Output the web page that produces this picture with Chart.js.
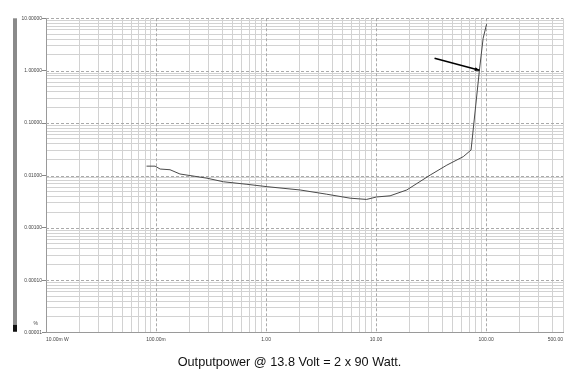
<!DOCTYPE html>
<html>
<head>
<meta charset="utf-8">
<script src="https://cdn.jsdelivr.net/npm/chart.js@4.4.0/dist/chart.umd.min.js"></script>
<style>
html, body { margin: 0; padding: 0; background: #fff; }
</style>
</head>
<body>
<canvas id="myChart" width="586" height="390"></canvas>
<script>
// Output power in Watt (x axis)
var power = [0.082, 0.098, 0.109, 0.134, 0.165, 0.29, 0.41, 0.67, 1.04, 2.04, 3.56, 5.8, 8.2, 10.1, 13.4, 19, 31, 44, 62, 73, 87, 94, 101];
// THD+N in % (y axis)
var thd = [0.0151, 0.0151, 0.0133, 0.0129, 0.0107, 0.0089, 0.0076, 0.0068, 0.0061, 0.0053, 0.0044, 0.0037, 0.0035, 0.0039, 0.0041, 0.0053, 0.0102, 0.0158, 0.0229, 0.0307, 1.03, 4.15, 7.7];

var yDecades = [10, 1, 0.1, 0.01, 0.001, 0.0001, 0.00001];
var yTickLabels = ["10.00000", "1.00000", "0.10000", "0.01000", "0.00100", "0.00010", "0.00001"];
var xLabelValues = [0.01, 0.1, 1, 10, 100, 500];
var xTickLabels = ["10.00m W", "100.00m", "1.00", "10.00", "100.00", "500.00"];
var yUnit = "%";
var title = "Outputpower @ 13.8 Volt = 2 x 90 Watt.";

// arrow pointing at the clipping knee (data units)
var arrowFrom = { x: 34, y: 1.73 };
var arrowTo = { x: 87, y: 1.02 };

function isDecade(v) {
    var l = Math.log10(v);
    return Math.abs(l - Math.round(l)) < 1e-6;
}

function logTicks(minExp, maxExp, extra) {
    var t = [];
    for (var e = minExp; e < maxExp; e++) {
        for (var m = 1; m <= 9; m++) {
            t.push({ value: m * Math.pow(10, e) });
        }
    }
    for (var i = 0; i < extra.length; i++) t.push({ value: extra[i] });
    return t;
}

var points = [];
for (var i = 0; i < power.length; i++) {
    points.push({ x: power[i], y: thd[i] });
}

var decorations = {
    id: 'decorations',
    beforeDraw: function (chart) {
        var c = chart.ctx;
        var a = chart.chartArea;
        c.save();
        c.fillStyle = '#fff';
        c.fillRect(0, 0, chart.width, chart.height);
        // gray bar at the far left
        c.fillStyle = '#8a8a8a';
        c.fillRect(13, a.top, 4, a.bottom - a.top - 8);
        c.fillStyle = '#111';
        c.fillRect(13, a.bottom - 8, 4, 7);
        c.restore();
    },
    beforeDatasetsDraw: function (chart) {
        var c = chart.ctx;
        var a = chart.chartArea;
        var xs = chart.scales.x, ys = chart.scales.y;
        c.save();
        c.strokeStyle = '#aaaaaa';
        c.lineWidth = 1;
        c.setLineDash([3, 2]);
        for (var i = 0; i < yDecades.length - 1; i++) {
            var y = Math.round(ys.getPixelForValue(yDecades[i])) + 0.5;
            c.beginPath(); c.moveTo(a.left, y); c.lineTo(a.right, y); c.stroke();
        }
        for (var j = 1; j < xLabelValues.length - 1; j++) {
            var x = Math.round(xs.getPixelForValue(xLabelValues[j])) + 0.5;
            c.beginPath(); c.moveTo(x, a.top); c.lineTo(x, a.bottom); c.stroke();
        }
        c.restore();
    },
    afterDraw: function (chart) {
        var c = chart.ctx;
        var a = chart.chartArea;
        var xs = chart.scales.x, ys = chart.scales.y;
        c.save();
        c.fillStyle = '#444';
        c.font = '5px "Liberation Sans", Arial, sans-serif';
        c.textBaseline = 'top';
        for (var i = 0; i < xLabelValues.length; i++) {
            var x = xs.getPixelForValue(xLabelValues[i]);
            c.textAlign = i === 0 ? 'left' : (i === xLabelValues.length - 1 ? 'right' : 'center');
            c.fillText(xTickLabels[i], x, a.bottom + 4);
        }
        c.textAlign = 'right';
        c.textBaseline = 'middle';
        c.fillText(yUnit, 38, a.bottom - 9);

        // arrow
        var x1 = xs.getPixelForValue(arrowFrom.x), y1 = ys.getPixelForValue(arrowFrom.y);
        var x2 = xs.getPixelForValue(arrowTo.x), y2 = ys.getPixelForValue(arrowTo.y);
        var ang = Math.atan2(y2 - y1, x2 - x1);
        c.strokeStyle = '#000';
        c.fillStyle = '#000';
        c.lineWidth = 1.6;
        c.beginPath(); c.moveTo(x1, y1); c.lineTo(x2, y2); c.stroke();
        c.beginPath();
        c.moveTo(x2, y2);
        c.lineTo(x2 - 5 * Math.cos(ang - 0.4), y2 - 5 * Math.sin(ang - 0.4));
        c.lineTo(x2 - 5 * Math.cos(ang + 0.4), y2 - 5 * Math.sin(ang + 0.4));
        c.closePath();
        c.fill();
        c.restore();
    }
};

var ctx = document.getElementById("myChart");
var myChart = new Chart(ctx, {
    type: 'line',
    data: {
        datasets: [
            {
                data: points,
                borderColor: '#4a4a4a',
                borderWidth: 1,
                pointRadius: 0,
                tension: 0,
                fill: false
            }
        ]
    },
    options: {
        responsive: false,
        animation: false,
        layout: { padding: { left: 16, right: 23, top: 18.3, bottom: 0 } },
        plugins: {
            legend: { display: false },
            tooltip: { enabled: false },
            title: {
                display: true,
                position: 'bottom',
                text: title,
                color: '#111',
                font: { family: '"Liberation Sans", Arial, sans-serif', size: 12.7, weight: 'normal' },
                padding: { top: 11, bottom: 20 }
            }
        },
        scales: {
            x: {
                type: 'logarithmic',
                min: 0.01,
                max: 500,
                afterBuildTicks: function (scale) {
                    scale.ticks = logTicks(-2, 2, [100, 200, 300, 400, 500]);
                },
                afterFit: function (scale) { scale.height = 11; },
                ticks: { display: false, autoSkip: false },
                grid: {
                    drawTicks: false,
                    lineWidth: 1,
                    color: function (c) {
                        if (!c.tick) return '#d2d2d2';
                        if (isDecade(c.tick.value) && c.tick.value > 0.011) return 'rgba(0,0,0,0)';
                        return '#d2d2d2';
                    }
                },
                border: { color: '#9a9a9a' }
            },
            y: {
                type: 'logarithmic',
                min: 0.00001,
                max: 10,
                afterBuildTicks: function (scale) {
                    scale.ticks = logTicks(-5, 1, [10]);
                },
                afterFit: function (scale) { scale.width = 30; },
                ticks: {
                    autoSkip: false,
                    padding: 0,
                    color: '#444',
                    font: { family: '"Liberation Sans", Arial, sans-serif', size: 4.9 },
                    callback: function (value) {
                        for (var j = 0; j < yDecades.length; j++) {
                            if (Math.abs(value / yDecades[j] - 1) < 1e-6) return yTickLabels[j];
                        }
                        return '';
                    }
                },
                grid: {
                    drawTicks: true,
                    tickLength: 4,
                    lineWidth: 1,
                    color: function (c) {
                        if (!c.tick) return '#d2d2d2';
                        if (isDecade(c.tick.value) && c.tick.value > 0.000011) return 'rgba(0,0,0,0)';
                        return '#d2d2d2';
                    },
                    tickColor: function (c) {
                        if (!c.tick) return 'rgba(0,0,0,0)';
                        return isDecade(c.tick.value) ? '#888' : 'rgba(0,0,0,0)';
                    }
                },
                border: { color: '#9a9a9a' }
            }
        }
    },
    plugins: [decorations]
});
</script>
</body>
</html>
